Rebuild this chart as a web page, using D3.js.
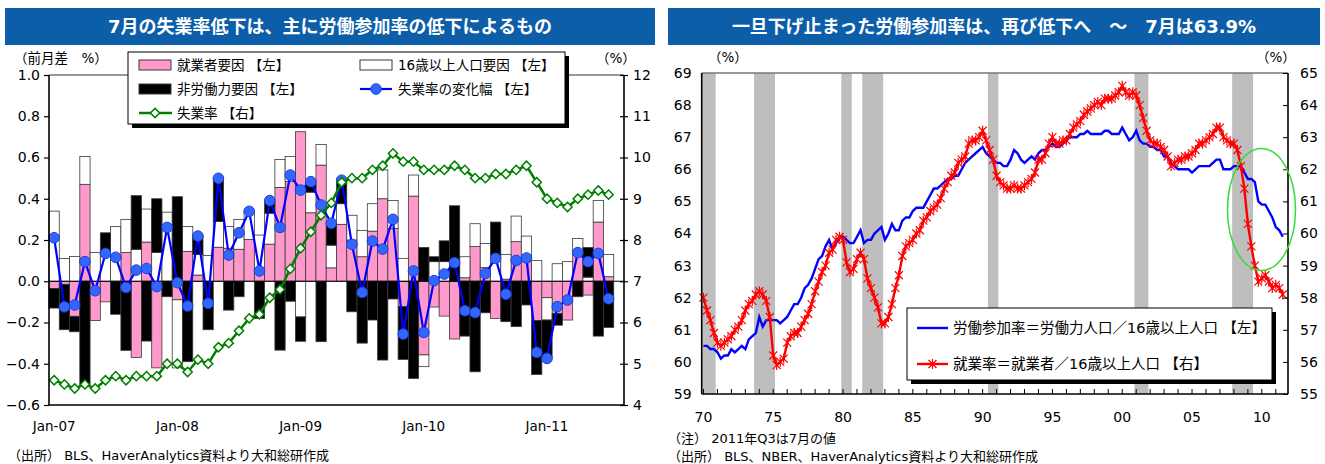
<!DOCTYPE html>
<html><head><meta charset="utf-8">
<script src="https://cdn.jsdelivr.net/npm/d3@7"></script>
<style>
body{margin:0;background:#fff;}
svg text{font-family:"DejaVu Sans","Noto Sans CJK JP",sans-serif;fill:#000;}
</style></head><body>
<svg id="c" width="1325" height="464"></svg>
<script>
// ---------- left panel: monthly decomposition of the unemployment-rate change ----------
const months = ["2007-01","2007-02","2007-03","2007-04","2007-05","2007-06","2007-07","2007-08","2007-09","2007-10","2007-11","2007-12",
"2008-01","2008-02","2008-03","2008-04","2008-05","2008-06","2008-07","2008-08","2008-09","2008-10","2008-11","2008-12",
"2009-01","2009-02","2009-03","2009-04","2009-05","2009-06","2009-07","2009-08","2009-09","2009-10","2009-11","2009-12",
"2010-01","2010-02","2010-03","2010-04","2010-05","2010-06","2010-07","2010-08","2010-09","2010-10","2010-11","2010-12",
"2011-01","2011-02","2011-03","2011-04","2011-05","2011-06","2011-07"];
const monthSlots = months.concat(["2011-08"]);   // axis runs one month past the data
const monthTickLabels = [["2007-01","Jan-07"],["2008-01","Jan-08"],["2009-01","Jan-09"],["2010-01","Jan-10"],["2011-01","Jan-11"]];

// 就業者要因 (employment factor)
const employmentFactor = [-0.035,-0.015,-0.17,0.47,-0.19,-0.10,0.0,0.14,-0.37,0.19,-0.42,0.0,
-0.09,0.145,0.03,0.0,0.165,0.16,0.155,0.203,0.05,0.18,0.455,0.485,
0.725,0.332,0.563,0.065,0.276,0.20,0.119,0.243,0.40,0.256,-0.123,0.413,
-0.357,-0.125,-0.169,-0.28,0.017,0.168,0.066,-0.18,0.01,0.192,0.095,-0.19,
-0.08,-0.156,-0.188,0.143,-0.067,0.287,0.022];
// 16歳以上人口要因 (population factor)
const populationFactor = [0.34,0.11,0.12,0.135,0.14,0.14,0.265,0.16,0.155,0.16,0.14,0.335,
-0.33,0.12,0.10,0.125,0.125,0.105,0.145,0.136,0.174,0.15,0.135,0.12,
-0.173,0.10,0.10,0.11,0.10,0.12,0.127,0.133,0.14,0.136,0.111,0.102,
-0.057,0.095,0.095,0.0,0.102,0.111,0.117,0.127,0.12,0.124,0.124,0.101,
-0.108,0.085,0.095,0.064,0.02,0.105,0.108];
// 非労働力要因 (not-in-labor-force factor)
const nonLaborFactor = [-0.095,-0.22,-0.075,-0.50,0.0,0.095,-0.16,-0.335,0.26,-0.29,0.26,-0.075,
0.41,-0.39,0.09,-0.235,0.21,-0.14,-0.075,0.0,-0.18,0.06,-0.334,-0.097,
-0.118,0.05,-0.293,0.105,0.114,-0.148,-0.30,-0.188,-0.382,-0.086,-0.256,-0.471,
0.164,0.024,0.101,0.366,-0.266,-0.439,-0.153,0.16,-0.196,-0.22,-0.115,-0.262,
-0.186,-0.057,0.0,-0.075,0.144,-0.266,-0.224];
// 失業率の変化幅 (month-on-month change, %pt)
const rateChange = [0.211,-0.124,-0.115,0.095,-0.046,0.135,0.116,-0.03,0.054,0.062,-0.026,0.261,
-0.007,-0.12,0.219,-0.107,0.499,0.127,0.235,0.339,0.05,0.391,0.261,0.515,
0.442,0.483,0.37,0.281,0.49,0.179,-0.054,0.195,0.156,0.30,-0.256,0.05,
-0.248,0.003,0.035,0.09,-0.143,-0.152,0.038,0.111,-0.063,0.101,0.113,-0.345,
-0.374,-0.123,-0.091,0.139,0.095,0.135,-0.085];
// 失業率 (unemployment rate, %, right axis)
const unemploymentRate = [4.6,4.5,4.4,4.5,4.4,4.6,4.7,4.6,4.7,4.7,4.7,5.0,
5.0,4.8,5.1,5.0,5.4,5.5,5.8,6.1,6.2,6.6,6.8,7.3,
7.8,8.2,8.6,8.9,9.4,9.5,9.5,9.7,9.8,10.1,9.9,9.9,
9.7,9.7,9.7,9.8,9.7,9.5,9.5,9.6,9.6,9.7,9.8,9.4,
9.0,8.9,8.8,9.0,9.1,9.2,9.1];
const leftTicks = [-0.6,-0.4,-0.2,0.0,0.2,0.4,0.6,0.8,1.0];
const rightTicks = [4,5,6,7,8,9,10,11,12];

// ---------- right panel: quarterly 1970Q1 .. 2011Q3 ----------
const startYear = 1970;
// 労働参加率 (participation rate, left axis)
const participationRate = [
60.5,60.5,60.4,60.4, 60.3,60.1,60.2,60.2, 60.4,60.3,60.4,60.5, 60.4,60.7,60.8,60.9,
61.4,61.1,61.3,61.3, 61.3,61.3,61.2,61.3, 61.4,61.6,61.8,61.8, 62.0,62.3,62.4,62.6,
62.9,63.2,63.3,63.6, 63.8,63.5,63.7,63.9, 63.9,63.8,63.7,63.7, 63.9,64.1,63.7,63.8,
63.8,64.0,64.1,64.2, 63.8,64.0,64.3,64.1, 64.1,64.4,64.5,64.5, 64.7,64.8,64.8,64.8,
65.0,65.2,65.4,65.4, 65.5,65.6,65.7,65.7, 65.8,65.8,66.0,66.2, 66.3,66.4,66.5,66.6,
66.7,66.5,66.4,66.3, 66.2,66.2,66.1,66.1, 66.3,66.6,66.5,66.3, 66.2,66.3,66.4,66.3,
66.5,66.6,66.6,66.7, 66.8,66.7,66.7,66.8, 66.9,67.0,67.0,67.0, 67.1,67.1,67.2,67.1,
67.1,67.1,67.1,67.2, 67.2,67.1,67.1,67.1, 67.3,67.1,66.9,67.0, 67.2,66.9,66.8,66.8,
66.7,66.7,66.6,66.6, 66.4,66.4,66.2,66.1, 66.0,66.0,66.0,66.0, 65.9,66.0,66.1,66.1,
66.1,66.1,66.2,66.3, 66.3,66.0,66.0,66.0, 66.1,66.1,66.1,65.9, 65.7,65.7,65.6,65.0,
64.9,64.9,64.7,64.5, 64.2,64.1,63.9];
// 就業率 (employment-population ratio, right axis)
const employmentRate = [
58.0,57.6,57.3,56.9, 56.6,56.5,56.6,56.7, 56.8,57.0,57.1,57.3, 57.6,57.8,57.9,58.1,
58.2,58.1,57.9,57.4, 56.2,55.9,56.0,56.1, 56.6,56.8,56.9,56.9, 57.1,57.3,57.5,57.8,
58.2,58.5,58.8,59.0, 59.4,59.5,59.8,59.9, 59.8,59.1,58.8,58.9, 59.2,59.4,59.2,58.6,
58.3,58.0,57.7,57.2, 57.2,57.4,57.8,58.3, 58.7,59.3,59.6,59.7, 59.8,60.0,60.1,60.4,
60.5,60.7,60.8,60.9, 61.1,61.4,61.6,61.8, 61.9,62.2,62.3,62.4, 62.8,62.9,62.9,63.0,
63.2,62.9,62.6,62.3, 61.8,61.6,61.5,61.4, 61.4,61.5,61.4,61.4, 61.5,61.6,61.7,61.9,
62.3,62.3,62.5,62.8, 63.0,62.8,62.8,62.9, 62.9,63.1,63.3,63.4, 63.5,63.7,63.8,63.9,
64.0,64.1,64.0,64.2, 64.2,64.2,64.3,64.4, 64.6,64.4,64.3,64.4, 64.3,64.0,63.6,63.2,
62.9,62.8,62.8,62.7, 62.6,62.4,62.1,62.2, 62.3,62.3,62.4,62.4, 62.5,62.6,62.8,62.8,
62.9,63.0,63.1,63.3, 63.3,63.0,62.9,62.8, 62.8,62.6,62.1,61.4, 60.3,59.6,59.0,58.5,
58.6,58.7,58.5,58.3, 58.4,58.3,58.1];
// NBER recessions as [first quarter, last quarter]
const recessions = [["1970Q1","1970Q4"],["1973Q4","1975Q1"],["1980Q1","1980Q3"],["1981Q3","1982Q4"],
                    ["1990Q3","1991Q1"],["2001Q1","2001Q4"],["2008Q1","2009Q2"]];
const yearLabels = ["70","75","80","85","90","95","00","05","10"];
const prTicks = [59,60,61,62,63,64,65,66,67,68,69];
const erTicks = [55,56,57,58,59,60,61,62,63,64,65];

// quarter categories, plus one empty slot for 2011Q4 at the end of the axis
const quarters = [];
for (let y = startYear; y <= 2011; y++) for (let q = 1; q <= 4; q++) quarters.push(y + "Q" + q);

const svg = d3.select("#c");
svg.append("rect").attr("width",1325).attr("height",464).attr("fill","#fff");

const titleBlue = "#0D5EA8";
function titleBar(x, w, text){
  svg.append("rect").attr("x",x).attr("y",8).attr("width",w).attr("height",37).attr("fill",titleBlue);
  svg.append("text").attr("x",x+w/2).attr("y",33).attr("text-anchor","middle")
    .attr("font-size",18).attr("font-weight","bold").style("fill","#fff").text(text);
}
titleBar(5, 650, "7月の失業率低下は、主に労働参加率の低下によるもの");
titleBar(668, 652, "一旦下げ止まった労働参加率は、再び低下へ　～　7月は63.9%");

// ================= LEFT PANEL =================
const L = {l:49, r:624, t:75, b:405};
const xL = d3.scaleBand().domain(monthSlots).range([L.l, L.r]).padding(0);
const yL = d3.scaleLinear().domain([-0.6,1.0]).range([L.b, L.t]);
const yR = d3.scaleLinear().domain([4,12]).range([L.b, L.t]);

const rows = months.map((m,i)=>({month:m, emp:employmentFactor[i], pop:populationFactor[i], nilf:nonLaborFactor[i]}));
const stacked = d3.stack().keys(["emp","pop","nilf"]).offset(d3.stackOffsetDiverging)(rows);
const fills = {emp:"#FF99CC", pop:"#FFFFFF", nilf:"#000000"};

const gL = svg.append("g");
stacked.forEach(s=>{
  gL.append("g").selectAll("rect").data(s).join("rect")
    .attr("x", d=>xL(d.data.month))
    .attr("width", xL.bandwidth())
    .attr("y", d=>yL(Math.max(d[0],d[1])))
    .attr("height", d=>Math.abs(yL(d[0])-yL(d[1])))
    .attr("fill", fills[s.key]).attr("stroke","#3a3a3a").attr("stroke-width",0.8);
});
// zero line
gL.append("line").attr("x1",L.l).attr("x2",L.r).attr("y1",yL(0)).attr("y2",yL(0)).attr("stroke","#000").attr("stroke-width",1);

const cx = m => xL(m)+xL.bandwidth()/2;
// change of unemployment rate
gL.append("path").datum(months).attr("fill","none").attr("stroke","#0000FF").attr("stroke-width",2.2)
  .attr("d", d3.line().x(m=>cx(m)).y((m,i)=>yL(rateChange[i])));
gL.append("g").selectAll("circle").data(months).join("circle")
  .attr("cx", m=>cx(m)).attr("cy",(m,i)=>yL(rateChange[i])).attr("r",5.3)
  .attr("fill","#3366FF").attr("stroke","#1A3FD8").attr("stroke-width",1);
// unemployment rate (right axis)
gL.append("path").datum(months).attr("fill","none").attr("stroke","#008000").attr("stroke-width",2.5)
  .attr("d", d3.line().x(m=>cx(m)).y((m,i)=>yR(unemploymentRate[i])));
const diamond = "M0,-4.6L4.6,0L0,4.6L-4.6,0Z";
gL.append("g").selectAll("path").data(months).join("path")
  .attr("transform",(m,i)=>`translate(${cx(m)},${yR(unemploymentRate[i])})`)
  .attr("d",diamond).attr("fill","#fff").attr("stroke","#008000").attr("stroke-width",1.5);

// frame and axes
gL.append("line").attr("x1",L.l).attr("x2",L.r).attr("y1",L.t).attr("y2",L.t).attr("stroke","#777").attr("stroke-width",1.5);
const axL = gL.append("g").attr("transform",`translate(${L.l},0)`)
  .call(d3.axisLeft(yL).tickValues(leftTicks).tickSize(5).tickFormat(d3.format(".1f")));
const axR = gL.append("g").attr("transform",`translate(${L.r},0)`)
  .call(d3.axisRight(yR).tickValues(rightTicks).tickSize(4).tickFormat(d3.format("d")));
axR.selectAll(".tick line").attr("x1",-4);
const axB = gL.append("g").attr("transform",`translate(0,${L.b})`)
  .call(d3.axisBottom(xL).tickValues(monthTickLabels.map(d=>d[0])).tickSize(0)
        .tickFormat(m=>monthTickLabels.find(d=>d[0]===m)[1]));
[axL,axR,axB].forEach(a=>{
  a.select(".domain").attr("stroke","#000").attr("stroke-width",1.6);
  a.selectAll(".tick line").attr("stroke","#000").attr("stroke-width",1.2);
  a.selectAll("text").attr("font-family","DejaVu Sans").attr("font-size",14);
});
axL.select(".domain").attr("d",`M0,${L.t}V${L.b}`);
axR.select(".domain").attr("d",`M0,${L.t}V${L.b}`);
axB.select(".domain").attr("d",`M${L.l},0H${L.r}`);
axL.selectAll("text").attr("x",-9).text(d=>d3.format(".1f")(d).replace("-","−"));
axR.selectAll("text").attr("x",9);
axB.selectAll("text").attr("dy","1.7em").attr("font-size",13.5);

svg.append("text").attr("x",14).attr("y",63).attr("font-size",13.5).text("（前月差　%）");
svg.append("text").attr("x",596).attr("y",63).attr("font-size",13.5).text("（%）");

// legend (left)
const lg = svg.append("g");
lg.append("rect").attr("x",132).attr("y",56).attr("width",437).attr("height",72).attr("fill","#000");
lg.append("rect").attr("x",128).attr("y",52).attr("width",437).attr("height",72).attr("fill","#fff").attr("stroke","#000").attr("stroke-width",1);
const legItemsL = [
  {x:139, y:65, type:"bar", fill:"#FF99CC", label:"就業者要因 【左】"},
  {x:360, y:65, type:"bar", fill:"#FFFFFF", label:"16歳以上人口要因 【左】"},
  {x:139, y:89, type:"bar", fill:"#000000", label:"非労働力要因 【左】"},
  {x:360, y:89, type:"circle", label:"失業率の変化幅 【左】"},
  {x:139, y:113, type:"diamond", label:"失業率 【右】"}
];
legItemsL.forEach(it=>{
  if (it.type==="bar") {
    lg.append("rect").attr("x",it.x).attr("y",it.y-5).attr("width",32).attr("height",10)
      .attr("fill",it.fill).attr("stroke","#3a3a3a").attr("stroke-width",1);
  } else if (it.type==="circle") {
    lg.append("line").attr("x1",it.x).attr("x2",it.x+32).attr("y1",it.y).attr("y2",it.y).attr("stroke","#0000FF").attr("stroke-width",2.2);
    lg.append("circle").attr("cx",it.x+16).attr("cy",it.y).attr("r",5.3).attr("fill","#3366FF").attr("stroke","#1A3FD8");
  } else {
    lg.append("line").attr("x1",it.x).attr("x2",it.x+33).attr("y1",it.y).attr("y2",it.y).attr("stroke","#008000").attr("stroke-width",2.5);
    lg.append("path").attr("transform",`translate(${it.x+16},${it.y})`).attr("d",diamond).attr("fill","#fff").attr("stroke","#008000").attr("stroke-width",1.5);
  }
  lg.append("text").attr("x",it.x+38).attr("y",it.y+5).attr("font-size",13.5).text(it.label);
});

svg.append("text").attr("x",8).attr("y",460).attr("font-size",13).text("（出所） BLS、HaverAnalytics資料より大和総研作成");

// ================= RIGHT PANEL =================
const R = {l:701.7, r:1288, t:73, b:394};
const xQ = d3.scaleBand().domain(quarters).range([R.l, R.r]).padding(0);
const yP = d3.scaleLinear().domain([59,69]).range([R.b, R.t]);
const yE = d3.scaleLinear().domain([55,65]).range([R.b, R.t]);
const gR = svg.append("g");
const qc = (i)=>xQ(quarters[i])+xQ.bandwidth()/2;

// recession shading
gR.append("g").selectAll("rect").data(recessions).join("rect")
  .attr("x", d=>xQ(d[0])).attr("width", d=>xQ(d[1])+xQ.bandwidth()-xQ(d[0]))
  .attr("y", R.t).attr("height", R.b-R.t).attr("fill","#BEBEBE");

gR.append("line").attr("x1",R.l).attr("x2",R.r).attr("y1",R.t).attr("y2",R.t).attr("stroke","#777").attr("stroke-width",1.5);

gR.append("path").datum(participationRate).attr("fill","none").attr("stroke","#0000FF").attr("stroke-width",2.4)
  .attr("d", d3.line().x((d,i)=>qc(i)).y(d=>yP(d)));
gR.append("path").datum(employmentRate).attr("fill","none").attr("stroke","#FF0000").attr("stroke-width",2.4)
  .attr("d", d3.line().x((d,i)=>qc(i)).y(d=>yE(d)));
const star = "M-4,-4L4,4M-4,4L4,-4M0,-5L0,5";
gR.append("g").selectAll("path").data(employmentRate).join("path")
  .attr("transform",(d,i)=>`translate(${qc(i)},${yE(d)})`)
  .attr("d",star).attr("stroke","#FF0000").attr("stroke-width",1.2).attr("fill","none");

const axPL = gR.append("g").attr("transform",`translate(${R.l},0)`)
  .call(d3.axisLeft(yP).tickValues(prTicks).tickSize(0).tickFormat(d3.format("d")));
const axER = gR.append("g").attr("transform",`translate(${R.r},0)`)
  .call(d3.axisRight(yE).tickValues(erTicks).tickSize(-5).tickFormat(d3.format("d")));
const yearQs = d3.range(startYear, 2012).map(y=>y+"Q1");
const axQB = gR.append("g").attr("transform",`translate(0,${R.b})`)
  .call(d3.axisBottom(xQ).tickValues(yearQs).tickSize(-5)
        .tickFormat(q=>{const y=+q.slice(0,4); return y%5===0 ? yearLabels[(y-1970)/5] : "";}));
[axPL,axER,axQB].forEach(a=>{
  a.select(".domain").attr("stroke","#000").attr("stroke-width",1.6);
  a.selectAll(".tick line").attr("stroke","#000").attr("stroke-width",1);
  a.selectAll("text").attr("font-family","DejaVu Sans").attr("font-size",14);
});
axPL.select(".domain").attr("d",`M0,${R.t}V${R.b}`);
axER.select(".domain").attr("d",`M0,${R.t}V${R.b}`);
axQB.select(".domain").attr("d",`M${R.l},0H${R.r}`);
axPL.selectAll("text").attr("x",-10);
axER.selectAll("text").attr("x",12);
axQB.selectAll("text").attr("dy","1.75em");

svg.append("text").attr("x",708).attr("y",62).attr("font-size",13.5).text("（%）");
svg.append("text").attr("x",1256).attr("y",62).attr("font-size",13.5).text("（%）");

// highlight of the recent drop
svg.append("ellipse").attr("cx",1261.5).attr("cy",209.5).attr("rx",34).attr("ry",61)
  .attr("fill","none").attr("stroke","#33DD33").attr("stroke-width",1.5);

// legend (right)
const lr = svg.append("g");
lr.append("rect").attr("x",911).attr("y",312).attr("width",365).attr("height",72).attr("fill","#000");
lr.append("rect").attr("x",907).attr("y",308).attr("width",365).attr("height",72).attr("fill","#fff").attr("stroke","#000");
lr.append("line").attr("x1",917).attr("x2",948).attr("y1",328).attr("y2",328).attr("stroke","#0000FF").attr("stroke-width",2.4);
lr.append("text").attr("x",953).attr("y",333).attr("font-size",14.5).text("労働参加率＝労働力人口／16歳以上人口 【左】");
lr.append("line").attr("x1",917).attr("x2",948).attr("y1",364).attr("y2",364).attr("stroke","#FF0000").attr("stroke-width",2.4);
lr.append("path").attr("transform","translate(932.5,364)").attr("d",star).attr("stroke","#FF0000").attr("stroke-width",1.2);
lr.append("text").attr("x",953).attr("y",369).attr("font-size",14.5).text("就業率＝就業者／16歳以上人口 【右】");

svg.append("text").attr("x",668).attr("y",443).attr("font-size",13).text("（注） 2011年Q3は7月の値");
svg.append("text").attr("x",668).attr("y",461).attr("font-size",13).text("（出所） BLS、NBER、HaverAnalytics資料より大和総研作成");
</script>
</body></html>
